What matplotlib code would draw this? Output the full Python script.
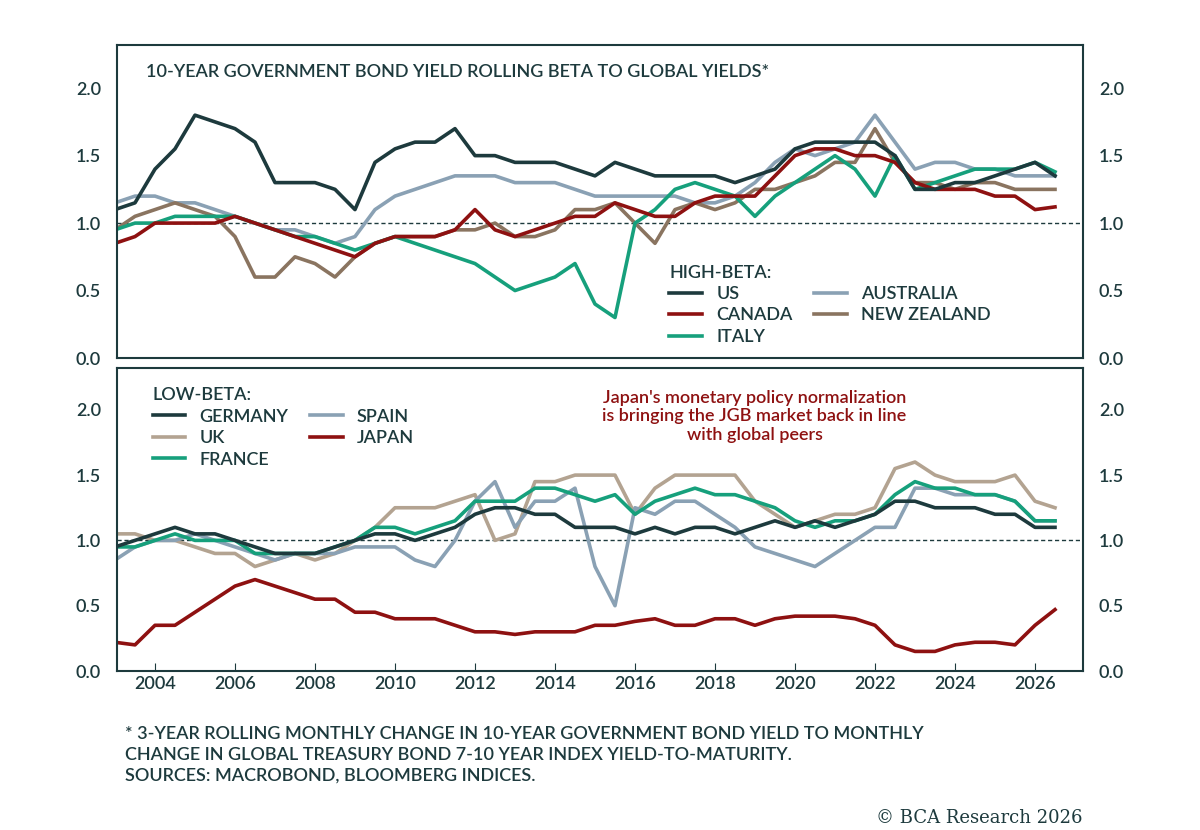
import numpy as np
import matplotlib.pyplot as plt

plt.rcParams['font.family'] = ['Lato', 'DejaVu Sans']
plt.rcParams['font.weight'] = 'semibold'

# half-yearly readings, 2003.0 .. 2026.5
years = np.arange(2003.0, 2026.51, 0.5)

us = [1.1, 1.15, 1.4, 1.55, 1.8, 1.75, 1.7, 1.6, 1.3, 1.3, 1.3, 1.25, 1.1, 1.45, 1.55, 1.6,
      1.6, 1.7, 1.5, 1.5, 1.45, 1.45, 1.45, 1.4, 1.35, 1.45, 1.4, 1.35, 1.35, 1.35, 1.35, 1.3,
      1.35, 1.4, 1.55, 1.6, 1.6, 1.6, 1.6, 1.5, 1.25, 1.25, 1.3, 1.3, 1.35, 1.4, 1.45, 1.35]
canada = [0.85, 0.9, 1.0, 1.0, 1.0, 1.0, 1.05, 1.0, 0.95, 0.9, 0.85, 0.8, 0.75, 0.85, 0.9, 0.9,
          0.9, 0.95, 1.1, 0.95, 0.9, 0.95, 1.0, 1.05, 1.05, 1.15, 1.1, 1.05, 1.05, 1.15, 1.2, 1.2,
          1.2, 1.35, 1.5, 1.55, 1.55, 1.5, 1.5, 1.45, 1.3, 1.25, 1.25, 1.25, 1.2, 1.2, 1.1, 1.12]
italy = [0.95, 1.0, 1.0, 1.05, 1.05, 1.05, 1.05, 1.0, 0.95, 0.9, 0.9, 0.85, 0.8, 0.85, 0.9, 0.85,
         0.8, 0.75, 0.7, 0.6, 0.5, 0.55, 0.6, 0.7, 0.4, 0.3, 1.0, 1.1, 1.25, 1.3, 1.25, 1.2,
         1.05, 1.2, 1.3, 1.4, 1.5, 1.4, 1.2, 1.5, 1.25, 1.3, 1.35, 1.4, 1.4, 1.4, 1.45, 1.38]
australia = [1.15, 1.2, 1.2, 1.15, 1.15, 1.1, 1.05, 1.0, 0.95, 0.95, 0.9, 0.85, 0.9, 1.1, 1.2, 1.25,
             1.3, 1.35, 1.35, 1.35, 1.3, 1.3, 1.3, 1.25, 1.2, 1.2, 1.2, 1.2, 1.2, 1.15, 1.15, 1.2,
             1.3, 1.45, 1.55, 1.5, 1.55, 1.6, 1.8, 1.6, 1.4, 1.45, 1.45, 1.4, 1.4, 1.35, 1.35, 1.35]
new_zealand = [0.95, 1.05, 1.1, 1.15, 1.1, 1.05, 0.9, 0.6, 0.6, 0.75, 0.7, 0.6, 0.75, 0.85, 0.9, 0.9,
               0.9, 0.95, 0.95, 1.0, 0.9, 0.9, 0.95, 1.1, 1.1, 1.15, 1.0, 0.85, 1.1, 1.15, 1.1, 1.15,
               1.25, 1.25, 1.3, 1.35, 1.45, 1.45, 1.7, 1.45, 1.3, 1.3, 1.25, 1.3, 1.3, 1.25, 1.25, 1.25]

germany = [0.95, 1.0, 1.05, 1.1, 1.05, 1.05, 1.0, 0.95, 0.9, 0.9, 0.9, 0.95, 1.0, 1.05, 1.05, 1.0,
           1.05, 1.1, 1.2, 1.25, 1.25, 1.2, 1.2, 1.1, 1.1, 1.1, 1.05, 1.1, 1.05, 1.1, 1.1, 1.05,
           1.1, 1.15, 1.1, 1.15, 1.1, 1.15, 1.2, 1.3, 1.3, 1.25, 1.25, 1.25, 1.2, 1.2, 1.1, 1.1]
spain = [0.85, 0.95, 1.0, 1.0, 1.05, 1.0, 0.95, 0.9, 0.85, 0.9, 0.9, 0.9, 0.95, 0.95, 0.95, 0.85,
         0.8, 1.0, 1.3, 1.45, 1.1, 1.3, 1.3, 1.4, 0.8, 0.5, 1.25, 1.2, 1.3, 1.3, 1.2, 1.1,
         0.95, 0.9, 0.85, 0.8, 0.9, 1.0, 1.1, 1.1, 1.4, 1.4, 1.35, 1.35, 1.35, 1.3, 1.15, 1.15]
uk = [1.05, 1.05, 1.0, 1.0, 0.95, 0.9, 0.9, 0.8, 0.85, 0.9, 0.85, 0.9, 1.0, 1.1, 1.25, 1.25,
      1.25, 1.3, 1.35, 1.0, 1.05, 1.45, 1.45, 1.5, 1.5, 1.5, 1.2, 1.4, 1.5, 1.5, 1.5, 1.5,
      1.3, 1.2, 1.1, 1.15, 1.2, 1.2, 1.25, 1.55, 1.6, 1.5, 1.45, 1.45, 1.45, 1.5, 1.3, 1.25]
france = [0.95, 0.95, 1.0, 1.05, 1.0, 1.0, 1.0, 0.9, 0.9, 0.9, 0.9, 0.95, 1.0, 1.1, 1.1, 1.05,
          1.1, 1.15, 1.3, 1.3, 1.3, 1.4, 1.4, 1.35, 1.3, 1.35, 1.2, 1.3, 1.35, 1.4, 1.35, 1.35,
          1.3, 1.25, 1.15, 1.1, 1.15, 1.15, 1.2, 1.35, 1.45, 1.4, 1.4, 1.35, 1.35, 1.3, 1.15, 1.15]
japan = [0.22, 0.2, 0.35, 0.35, 0.45, 0.55, 0.65, 0.7, 0.65, 0.6, 0.55, 0.55, 0.45, 0.45, 0.4, 0.4,
         0.4, 0.35, 0.3, 0.3, 0.28, 0.3, 0.3, 0.3, 0.35, 0.35, 0.38, 0.4, 0.35, 0.35, 0.4, 0.4,
         0.35, 0.4, 0.42, 0.42, 0.42, 0.4, 0.35, 0.2, 0.15, 0.15, 0.2, 0.22, 0.22, 0.2, 0.35, 0.47]

x_ticks = list(range(2004, 2027, 2))
y_ticks = [0.0, 0.5, 1.0, 1.5, 2.0]

DARK = '#1d3a3d'
RED = '#8e1111'
GREEN = '#16a07c'
BLUE = '#8aa1b4'
BROWN = '#8a7460'
TAN = '#b3a391'

fig = plt.figure(figsize=(12, 8.3), dpi=100)
ax1 = fig.add_axes([117/1200, 1-358/830, 966/1200, 313/830])
ax2 = fig.add_axes([117/1200, 1-671/830, 966/1200, 303/830])

def style(ax, show_x):
    ax.set_xlim(2003.05, 2027.2)
    ax.set_ylim(0, 2.32)
    ax.set_yticks(y_ticks)
    ax.set_yticklabels([f'{v:.1f}' for v in y_ticks])
    ax.tick_params(axis='y', which='both', left=False, right=False, labelright=True,
                   labelsize=13, colors=DARK, pad=8)
    ax.set_xticks(x_ticks)
    ax.tick_params(axis='x', direction='in', length=6, color=DARK, labelsize=13,
                   labelcolor=DARK, labelbottom=show_x, bottom=show_x)
    for s in ax.spines.values():
        s.set_color(DARK)
        s.set_linewidth(1.5)
    ax.axhline(1.0, color=DARK, lw=1, ls=(0, (3, 2)), zorder=1)

style(ax1, False)
style(ax2, True)

lw = 2.6
ax1.plot(years, australia, color=BLUE, lw=lw, label='AUSTRALIA')
ax1.plot(years, new_zealand, color=BROWN, lw=lw, label='NEW ZEALAND')
ax1.plot(years, italy, color=GREEN, lw=lw, label='ITALY')
ax1.plot(years, canada, color=RED, lw=lw, label='CANADA')
ax1.plot(years, us, color=DARK, lw=lw, label='US')

ax2.plot(years, uk, color=TAN, lw=lw, label='UK')
ax2.plot(years, spain, color=BLUE, lw=lw, label='SPAIN')
ax2.plot(years, france, color=GREEN, lw=lw, label='FRANCE')
ax2.plot(years, germany, color=DARK, lw=lw, label='GERMANY')
ax2.plot(years, japan, color=RED, lw=lw, label='JAPAN')

def make_legend(ax, order, title, loc, anchor):
    h, l = ax.get_legend_handles_labels()
    d = dict(zip(l, h))
    leg = ax.legend([d[k] for k in order], order, ncol=2, title=title, loc=loc,
                    bbox_to_anchor=anchor, frameon=False, fontsize=13, title_fontsize=13,
                    handlelength=1.8, columnspacing=1.2, labelspacing=0.3,
                    alignment='left', labelcolor=DARK)
    leg.get_title().set_color(DARK)

make_legend(ax1, ['US', 'CANADA', 'ITALY', 'AUSTRALIA', 'NEW ZEALAND'], 'HIGH-BETA:',
            'lower left', (0.555, -0.01))
make_legend(ax2, ['GERMANY', 'UK', 'FRANCE', 'SPAIN', 'JAPAN'], 'LOW-BETA:',
            'upper left', (0.02, 0.99))

ax1.text(0.03, 0.915, '10-YEAR GOVERNMENT BOND YIELD ROLLING BETA TO GLOBAL YIELDS*',
         transform=ax1.transAxes, fontsize=13, color=DARK, va='center')
ax2.text(0.66, 0.84, "Japan's monetary policy normalization\nis bringing the JGB market back in line\nwith global peers",
         transform=ax2.transAxes, fontsize=13, color=RED, ha='center', va='center', linespacing=1.2)

fig.text(125/1200, 1-755/830,
         '* 3-YEAR ROLLING MONTHLY CHANGE IN 10-YEAR GOVERNMENT BOND YIELD TO MONTHLY\n'
         'CHANGE IN GLOBAL TREASURY BOND 7-10 YEAR INDEX YIELD-TO-MATURITY.\n'
         'SOURCES: MACROBOND, BLOOMBERG INDICES.',
         fontsize=13, color=DARK, va='center', linespacing=1.35)
fig.text(1083/1200, 1-818/830, '© BCA Research 2026', family='DejaVu Serif',
         fontweight='normal', fontsize=13, color=DARK, ha='right', va='center')

fig.savefig('out.png', dpi=100)
